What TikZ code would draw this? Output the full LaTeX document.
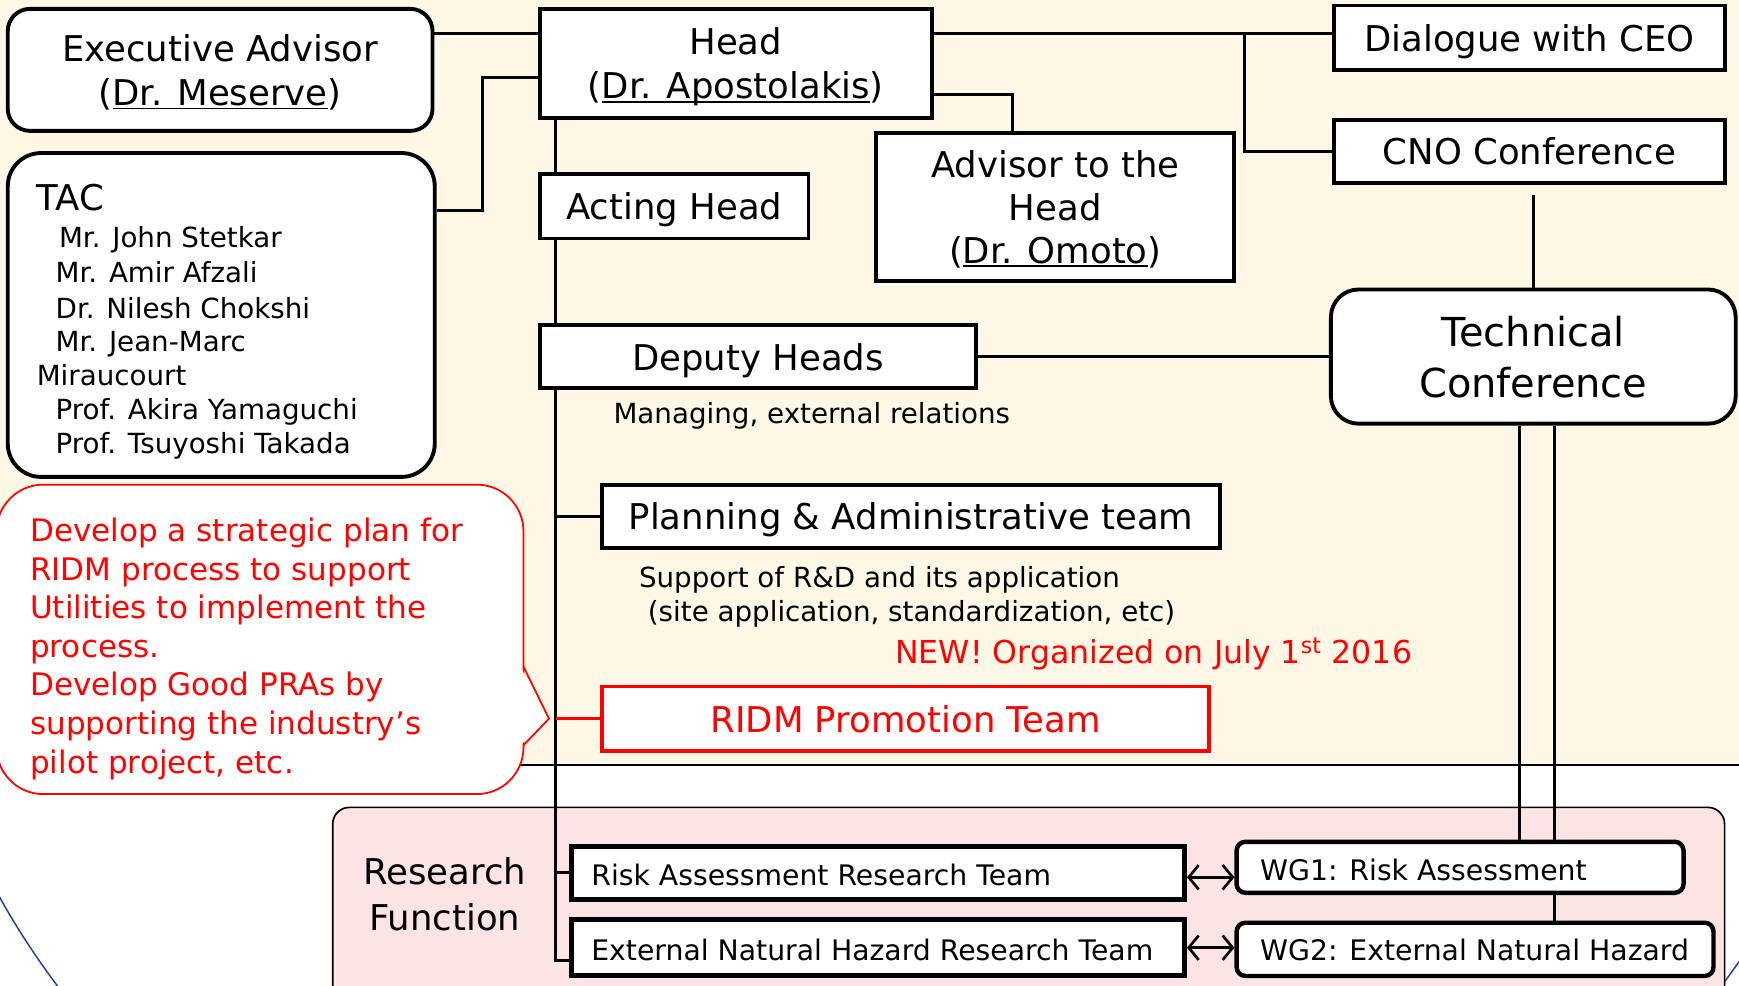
\documentclass[tikz,border=0pt]{standalone}
\usepackage{fontspec}
\setmainfont{DejaVu Sans}
\usetikzlibrary{arrows.meta,calc}
\definecolor{cream}{HTML}{FFF8E7}
\definecolor{pinkbg}{HTML}{FDE4E4}
\definecolor{redc}{HTML}{FF0000}
\definecolor{bluec}{HTML}{1F3C99}
\newcommand\fs[2]{\fontsize{#1pt}{#2pt}\selectfont}
\newcommand\ulx[1]{\setbox0\hbox{#1}\rlap{\rule[-3.5pt]{\wd0}{1.6pt}}\box0}
\pgfdeclarelayer{back}
\pgfdeclarelayer{wires}
\pgfsetlayers{back,wires,main}
\begin{document}
\begin{tikzpicture}[x=1pt,y=-1pt,
  box/.style={draw, line width=3.5pt, fill=white, inner sep=0pt, align=center, text depth=0pt, font=\fs{32}{40}},
  rbox/.style={box, rounded corners=20pt},
  rsbox/.style={box, line width=4.5pt},
  wgbox/.style={box, line width=4pt, rounded corners=8pt},
  conn/.style={line width=2.8pt},
  dbl/.style={line width=2.4pt, {Straight Barb[length=9pt,width=22pt]}-{Straight Barb[length=9pt,width=22pt]}},
  lbl/.style={inner sep=0pt, anchor=base west},
  ]
\useasboundingbox (0,0) rectangle (1568,889);
\begin{pgfonlayer}{back}
\fill[cream] (0,0) rectangle (1568,690);
\fill[white] (0,690) rectangle (1568,889);
\begin{scope}
\clip (0,690) rectangle (1568,889);
\draw[bluec, line width=1.3pt] (802,500) ellipse [x radius=884pt, y radius=735pt];
\end{scope}
\draw[line width=1.6pt] (0,690) -- (1568,690);
\begin{scope}
\clip (0,0) rectangle (1568,889);
\fill[pinkbg, draw=black, line width=1.5pt, rounded corners=15pt] (300,728) rectangle (1555,910);
\end{scope}
\draw[redc, line width=1.6pt, fill=white, rounded corners=42pt] (-3,437) rectangle (472,716);
\fill[white] (469,601) -- (495,648) -- (469,672) -- cycle;
\draw[redc, line width=1.6pt] (472,601) -- (495,648) -- (472,672);
\end{pgfonlayer}

% coordinates
\coordinate (trunk) at (501,0);
\coordinate (y30) at (0,30);
\coordinate (tacJ) at (435,70);
\coordinate (y190) at (0,190);
\coordinate (advJ) at (913,85);
\coordinate (jc) at (1122,30);
\coordinate (cnoX) at (1383,176);
\coordinate (xa) at (1370,0);
\coordinate (xb) at (1402,0);
\coordinate (trunkEnd) at (501,866);
\coordinate (y790) at (0,791);

% boxes
\node[rbox, minimum width=383pt, minimum height=110pt] (exec) at (198.5,63) {Executive Advisor\\(\ulx{Dr. Meserve})};
\node[box, rounded corners=30pt, minimum width=385pt, minimum height=292pt] (tac) at (199.5,284) {};
\node[box, minimum width=353pt, minimum height=98pt] (head) at (663.5,57) {Head\\(\ulx{Dr. Apostolakis})};
\node[box, minimum width=242pt, minimum height=58pt] (acting) at (608,186) {Acting Head};
\node[box, minimum width=323pt, minimum height=133pt, font=\fs{32}{38.5}] (advisor) at (951.5,186.5) {Advisor to the\\Head\\(\ulx{Dr. Omoto})};
\node[box, minimum width=352pt, minimum height=58pt] (ceo) at (1379,34) {Dialogue with CEO};
\node[box, minimum width=352pt, minimum height=57pt] (cno) at (1379,136.5) {CNO Conference};
\node[rbox, rounded corners=25pt, minimum width=365pt, minimum height=121pt, font=\fs{36}{46}] (tc) at (1382.5,321.5) {Technical\\Conference};
\node[box, minimum width=393pt, minimum height=57pt] (deputy) at (683.5,321.5) {Deputy Heads};
\node[box, minimum width=557pt, minimum height=57pt] (plan) at (821.5,465.5) {Planning \& Administrative team};
\node[box, draw=redc, text=redc, minimum width=547pt, minimum height=58pt] (ridm) at (816.5,648) {RIDM Promotion Team};
\node[rsbox, minimum width=553pt, minimum height=48pt] (rart) at (791.5,787) {};
\node[rsbox, minimum width=553pt, minimum height=51pt] (enhrt) at (791.5,854.5) {};
\node[wgbox, minimum width=403pt, minimum height=46pt] (wg1) at (1316.5,782) {};
\node[wgbox, minimum width=430pt, minimum height=48pt] (wg2) at (1330,856) {};

% connectors
\begin{pgfonlayer}{wires}
\draw[conn] (exec.east |- y30) -- (head.west |- y30);
\draw[conn] (tac.east |- y190) -| (tacJ) -- (head.west |- tacJ);
\draw[conn] (head.east |- y30) -- (ceo.west |- y30);
\draw[conn] (jc) |- (cno.west);
\draw[conn] (head.east |- advJ) -| (advisor.north -| advJ);
\draw[conn] (head.south -| trunk) -- (trunkEnd) -- (enhrt.west |- trunkEnd);
\draw[conn] (trunk |- plan.west) -- (plan.west);
\draw[conn, redc] (trunk |- ridm.west) -- (ridm.west);
\draw[conn] (trunk |- rart.west) -- (rart.west);
\draw[conn] (deputy.east) -- (tc.west |- deputy.east);
\draw[conn] (cnoX) -- (tc.north -| cnoX);
\draw[conn] (tc.south -| xa) -- (wg1.north -| xa);
\draw[conn] (tc.south -| xb) -- (wg1.north -| xb);
\draw[conn] (wg1.south -| xb) -- (wg2.north -| xb);
\end{pgfonlayer}
\draw[dbl] (rart.east |- y790) -- (wg1.west |- y790);
\draw[dbl] (enhrt.east) -- (wg2.west |- enhrt.east);

% texts
\node[lbl, font=\fs{32}{40}] (tac0) at (33,190) {TAC};
\node[lbl, font=\fs{25}{31}] (tac1) at (53,223) {Mr. John Stetkar};
\node[lbl, font=\fs{25}{31}] (tac2) at (50,255) {Mr. Amir Afzali};
\node[lbl, font=\fs{25}{31}] (tac3) at (50,287) {Dr. Nilesh Chokshi};
\node[lbl, font=\fs{25}{31}] (tac4) at (50,317) {Mr. Jean-Marc};
\node[lbl, font=\fs{25}{31}] (tac5) at (33,348) {Miraucourt};
\node[lbl, font=\fs{25}{31}] (tac6) at (50,378) {Prof. Akira Yamaguchi};
\node[lbl, font=\fs{25}{31}] (tac7) at (50,409) {Prof. Tsuyoshi Takada};

\node[lbl, font=\fs{25}{31}] (mng) at (553,382) {Managing, external relations};
\node[lbl, font=\fs{25}{31}] (sup1) at (576,530) {Support of R\&D and its application};
\node[lbl, font=\fs{25}{31}] (sup2) at (584,560) {(site application, standardization, etc)};
\node[lbl, font=\fs{28.5}{34}, text=redc] (new) at (807,598) {NEW! Organized on July 1\textsuperscript{st} 2016};

\node[lbl, font=\fs{28}{35}, text=redc] (co1) at (27,488) {Develop a strategic plan for};
\node[lbl, font=\fs{28}{35}, text=redc] (co2) at (27,523) {RIDM process to support};
\node[lbl, font=\fs{28}{35}, text=redc] (co3) at (27,558) {Utilities to implement the};
\node[lbl, font=\fs{28}{35}, text=redc] (co4) at (27,593) {process.};
\node[lbl, font=\fs{28}{35}, text=redc] (co5) at (27,627) {Develop Good PRAs by};
\node[lbl, font=\fs{28}{35}, text=redc] (co6) at (27,662) {supporting the industry’s};
\node[lbl, font=\fs{28}{35}, text=redc] (co7) at (27,697) {pilot project, etc.};

\node[inner sep=0pt, align=center, text depth=0pt, font=\fs{32}{41}] (rf) at (401,806) {Research\\Function};

\node[lbl, font=\fs{25.5}{31}] (rartT) at (533,798) {Risk Assessment Research Team};
\node[lbl, font=\fs{25.5}{31}] (enhrtT) at (533,866) {External Natural Hazard Research Team};
\node[lbl, font=\fs{25.5}{31}] (wg1T) at (1136,794) {WG1: Risk Assessment};
\node[lbl, font=\fs{25.5}{31}] (wg2T) at (1136,866) {WG2: External Natural Hazard};
\end{tikzpicture}
\end{document}
